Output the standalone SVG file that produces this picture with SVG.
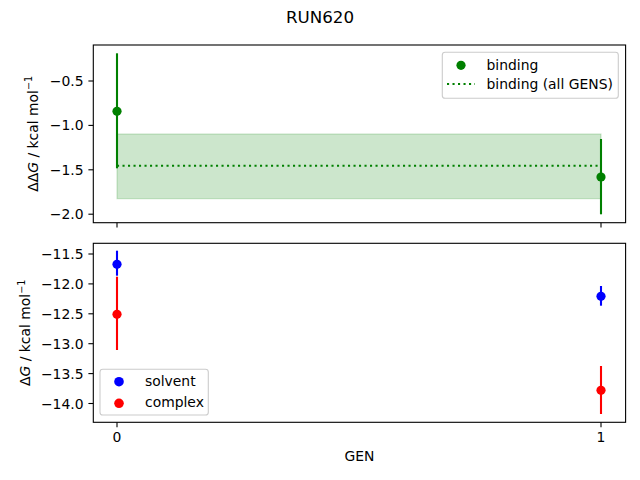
<svg xmlns="http://www.w3.org/2000/svg" width="640" height="480" viewBox="0 0 640 480">
<style>
text{font-family:"DejaVu Sans","Liberation Sans",sans-serif;fill:#000}
.tick{font-size:13.9px}
.tl{font-size:13.9px;text-anchor:end}
.axis{fill:none;stroke:#000;stroke-width:1.1}
.tk{stroke:#000;stroke-width:1.1}
.eb{stroke-width:2.1;fill:none}
.leg{fill:#fff;fill-opacity:0.8;stroke:#ccc;stroke-width:1.1}
</style>
<rect width="640" height="480" fill="#fff"/>
<text x="320" y="22.7" font-size="16.7" text-anchor="middle">RUN620</text>

<g id="top-axes">
  <rect x="117" y="134" width="484" height="64.7" fill="#008000" fill-opacity="0.2" stroke="#008000" stroke-opacity="0.2" stroke-width="1.1"/>
  <line x1="117" y1="165.7" x2="601" y2="165.7" stroke="#008000" stroke-width="2.1" stroke-dasharray="2.1 3.4"/>
  <g id="binding-0">
    <line class="eb" x1="117" y1="53.3" x2="117" y2="168.3" stroke="#008000"/>
    <circle cx="117" cy="111.3" r="4.6" fill="#008000"/>
  </g>
  <g id="binding-1">
    <line class="eb" x1="601" y1="139" x2="601" y2="214.3" stroke="#008000"/>
    <circle cx="601" cy="177" r="4.6" fill="#008000"/>
  </g>
  <rect class="axis" x="93.3" y="45" width="532.3" height="177.7"/>
  <g>
    <line class="tk" x1="88.4" y1="81" x2="93.3" y2="81"/>
    <line class="tk" x1="88.4" y1="125.4" x2="93.3" y2="125.4"/>
    <line class="tk" x1="88.4" y1="169.8" x2="93.3" y2="169.8"/>
    <line class="tk" x1="88.4" y1="214.2" x2="93.3" y2="214.2"/>
    <line class="tk" x1="117" y1="222.7" x2="117" y2="227.6"/>
    <line class="tk" x1="601" y1="222.7" x2="601" y2="227.6"/>
    <text class="tl" x="83.5" y="86">−0.5</text>
    <text class="tl" x="83.5" y="130.4">−1.0</text>
    <text class="tl" x="83.5" y="174.8">−1.5</text>
    <text class="tl" x="83.5" y="219.2">−2.0</text>
  </g>
  <text transform="translate(37.7,133.8) rotate(-90)" font-size="13.9" text-anchor="middle">ΔΔ<tspan font-style="italic">G</tspan> / kcal mol<tspan font-size="9.7" dy="-5.5">−1</tspan></text>
  <g id="legend-top">
    <rect class="leg" x="442.3" y="52.3" width="176" height="46" rx="2.8"/>
    <circle cx="461" cy="65.3" r="4.6" fill="#008000"/>
    <line x1="447" y1="84" x2="475" y2="84" stroke="#008000" stroke-width="2.1" stroke-dasharray="2.1 3.4"/>
    <text class="tick" x="486.5" y="70">binding</text>
    <text class="tick" x="486.5" y="89">binding (all GENS)</text>
  </g>
</g>

<g id="bottom-axes">
  <g id="complex-0">
    <line class="eb" x1="117" y1="276.7" x2="117" y2="350" stroke="#ff0000"/>
    <circle cx="117" cy="314.3" r="4.6" fill="#ff0000"/>
  </g>
  <g id="solvent-0">
    <line class="eb" x1="117" y1="250.7" x2="117" y2="275.7" stroke="#0000ff"/>
    <circle cx="117" cy="264.3" r="4.6" fill="#0000ff"/>
  </g>
  <g id="solvent-1">
    <line class="eb" x1="601" y1="286" x2="601" y2="305.7" stroke="#0000ff"/>
    <circle cx="601" cy="296.3" r="4.6" fill="#0000ff"/>
  </g>
  <g id="complex-1">
    <line class="eb" x1="601" y1="366" x2="601" y2="414" stroke="#ff0000"/>
    <circle cx="601" cy="390.3" r="4.6" fill="#ff0000"/>
  </g>
  <rect class="axis" x="93.3" y="243.3" width="532.3" height="179"/>
  <g>
    <line class="tk" x1="88.4" y1="254" x2="93.3" y2="254"/>
    <line class="tk" x1="88.4" y1="283.9" x2="93.3" y2="283.9"/>
    <line class="tk" x1="88.4" y1="313.8" x2="93.3" y2="313.8"/>
    <line class="tk" x1="88.4" y1="343.7" x2="93.3" y2="343.7"/>
    <line class="tk" x1="88.4" y1="373.6" x2="93.3" y2="373.6"/>
    <line class="tk" x1="88.4" y1="403.5" x2="93.3" y2="403.5"/>
    <text class="tl" x="83.5" y="259">−11.5</text>
    <text class="tl" x="83.5" y="288.9">−12.0</text>
    <text class="tl" x="83.5" y="318.8">−12.5</text>
    <text class="tl" x="83.5" y="348.7">−13.0</text>
    <text class="tl" x="83.5" y="378.6">−13.5</text>
    <text class="tl" x="83.5" y="408.5">−14.0</text>
    <line class="tk" x1="117" y1="422.3" x2="117" y2="427.2"/>
    <line class="tk" x1="601" y1="422.3" x2="601" y2="427.2"/>
    <text class="tick" x="117" y="441.7" text-anchor="middle">0</text>
    <text class="tick" x="601" y="441.7" text-anchor="middle">1</text>
  </g>
  <text x="359.5" y="461.3" font-size="13.9" text-anchor="middle">GEN</text>
  <text transform="translate(30,332.8) rotate(-90)" font-size="13.9" text-anchor="middle">Δ<tspan font-style="italic">G</tspan> / kcal mol<tspan font-size="9.7" dy="-5.5">−1</tspan></text>
  <g id="legend-bottom">
    <rect class="leg" x="100" y="369.3" width="108.3" height="45.7" rx="2.8"/>
    <circle cx="119" cy="381.7" r="4.8" fill="#0000ff"/>
    <circle cx="119" cy="403.3" r="4.8" fill="#ff0000"/>
    <text class="tick" x="145" y="385.5">solvent</text>
    <text class="tick" x="145" y="406.5">complex</text>
  </g>
</g>
</svg>
